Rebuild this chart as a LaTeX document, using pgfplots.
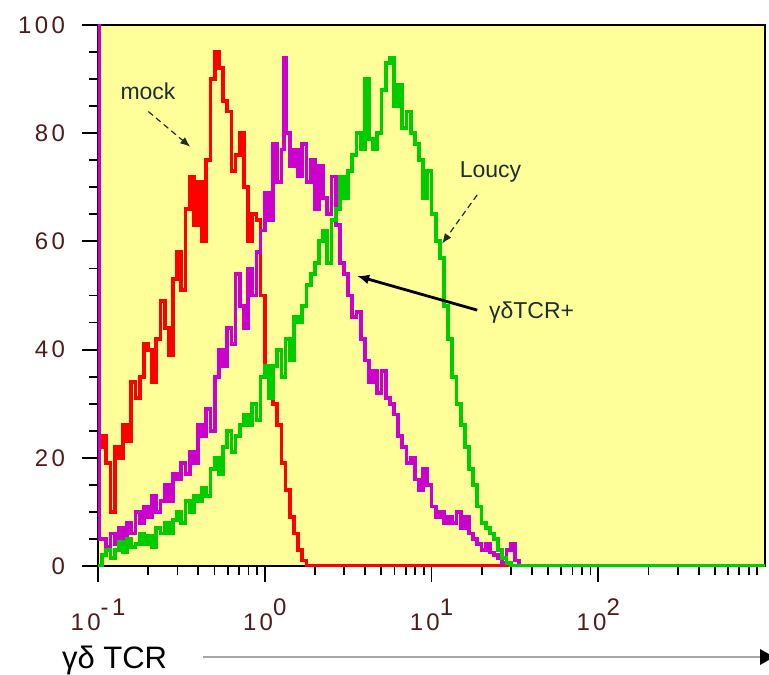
\documentclass[border=0pt]{standalone}
\usepackage{pgfplots}
\pgfplotsset{compat=1.18}
\usetikzlibrary{arrows.meta}
\usepackage{fontspec}
\setmainfont{Liberation Sans}
\definecolor{bg}{HTML}{FFFF99}
\definecolor{mockred}{HTML}{FF0000}
\definecolor{tcrmag}{HTML}{CC00CC}
\definecolor{loucygreen}{HTML}{00CC00}
\definecolor{ticktxt}{HTML}{4F1C1C}
\definecolor{annot}{HTML}{1E2E2E}

\begin{document}
\begin{tikzpicture}
\path[use as bounding box] (-49pt,-54pt) rectangle (335.5pt,283pt);
\clip (-49pt,-54pt) rectangle (335.5pt,283pt);
\begin{axis}[
    at={(0,0)}, anchor=south west, scale only axis,
    width=333.5pt, height=270.5pt,
    xmin=-1, xmax=3, ymin=0, ymax=100,
    axis background/.style={fill=bg},
    axis line style={black, line width=0.9pt},
    tick align=outside, xtick pos=bottom, ytick pos=left,
    major tick length=8pt, minor tick length=4.5pt,
    every tick/.style={black, line width=0.9pt},
    xtick={-1,0,1,2},
    xticklabels={10\raisebox{7.5pt}{-1}, 10\raisebox{7.5pt}{0}, 10\raisebox{7.5pt}{1}, 10\raisebox{7.5pt}{2}},
    minor xtick={-0.699,-0.523,-0.398,-0.301,-0.222,-0.155,-0.097,-0.046,
                 0.301,0.477,0.602,0.699,0.778,0.845,0.903,0.954,
                 1.301,1.477,1.602,1.699,1.778,1.845,1.903,1.954,
                 2.301,2.477,2.602,2.699,2.778,2.845,2.903,2.954},
    ytick={0,20,...,100},
    minor y tick num=3,
    tick label style={font=\fontsize{12}{12}\selectfont\addfontfeatures{LetterSpace=14}, text=ticktxt},
    xticklabel style={yshift=-5pt},
    yticklabel style={xshift=-5pt},
    /pgf/number format/assume math mode=true,
    every axis plot/.append style={const plot, line width=1.9pt},
]
% mock
\addplot[mockred] coordinates {
 (-1,110) (-0.995,22) (-0.975,24) (-0.95,19) (-0.925,10) (-0.9,22) (-0.875,20) (-0.85,26)
 (-0.825,23) (-0.8,34) (-0.775,31) (-0.75,35) (-0.725,41) (-0.7,40) (-0.675,34) (-0.65,42)
 (-0.625,49) (-0.6,44) (-0.575,39) (-0.55,53) (-0.525,58) (-0.5,51) (-0.475,66) (-0.45,72)
 (-0.425,63) (-0.4,71) (-0.375,60) (-0.35,75) (-0.325,90) (-0.3,95) (-0.275,92) (-0.25,86)
 (-0.225,84) (-0.2,73) (-0.175,76) (-0.15,80) (-0.125,70) (-0.1,60) (-0.075,65) (-0.05,64)
 (-0.025,50) (0,36) (0.025,33) (0.05,30) (0.075,26) (0.1,19) (0.125,14) (0.15,9)
 (0.175,6) (0.2,3) (0.225,1) (0.25,0) (3,0)
};
% gamma-delta TCR+
\addplot[tcrmag] coordinates {
 (-1,110) (-0.995,5) (-0.975,5) (-0.95,3.5) (-0.925,6) (-0.9,4) (-0.875,7) (-0.85,5)
 (-0.825,8) (-0.8,6) (-0.775,10) (-0.75,8) (-0.725,11) (-0.7,9) (-0.675,13) (-0.65,10)
 (-0.625,12) (-0.6,15) (-0.575,12) (-0.55,17) (-0.525,16) (-0.5,19) (-0.475,17) (-0.45,21)
 (-0.425,19) (-0.4,26) (-0.375,24) (-0.35,29) (-0.325,25) (-0.3,35) (-0.275,40) (-0.25,37)
 (-0.225,44) (-0.2,41) (-0.175,54) (-0.15,48) (-0.125,44) (-0.1,55) (-0.075,50) (-0.05,58)
 (-0.025,62) (0,69) (0.025,64) (0.05,78) (0.075,71) (0.1,77) (0.115,94) (0.13,80)
 (0.15,74) (0.175,77) (0.2,72) (0.225,78) (0.25,71) (0.275,75) (0.3,66) (0.325,74)
 (0.35,68) (0.375,65) (0.4,72) (0.425,63) (0.45,56) (0.475,54) (0.5,50) (0.525,46)
 (0.55,47) (0.575,42) (0.6,38) (0.625,34) (0.65,36) (0.675,32) (0.7,36) (0.725,31)
 (0.75,30) (0.775,28) (0.8,24) (0.825,22) (0.85,19) (0.875,20) (0.9,16) (0.925,14)
 (0.95,18) (0.975,15) (1,11) (1.025,9) (1.05,10) (1.075,8) (1.1,9) (1.125,8)
 (1.15,10) (1.175,7) (1.2,9) (1.225,6) (1.25,5) (1.275,4) (1.3,3) (1.325,4)
 (1.35,2.5) (1.375,2) (1.4,1.5) (1.425,0.5) (1.45,3) (1.475,4) (1.5,1) (1.525,0) (3,0)
};
% Loucy
\addplot[loucygreen] coordinates {
 (-1,0) (-0.975,2) (-0.95,3) (-0.925,1.5) (-0.9,3) (-0.875,4.5) (-0.85,2.5) (-0.825,5)
 (-0.8,3.5) (-0.775,4) (-0.75,6) (-0.725,4) (-0.7,5.5) (-0.675,3.5) (-0.65,7) (-0.625,6)
 (-0.6,8) (-0.575,6) (-0.55,8.5) (-0.525,10) (-0.5,8) (-0.475,12) (-0.45,10) (-0.425,13)
 (-0.4,12) (-0.375,14.5) (-0.35,13) (-0.325,18) (-0.3,20) (-0.275,17) (-0.25,22) (-0.225,25)
 (-0.2,21) (-0.175,24) (-0.15,26) (-0.125,28) (-0.1,26) (-0.075,30) (-0.05,27) (-0.025,35)
 (0,37) (0.025,31) (0.05,37) (0.075,40) (0.1,35) (0.125,42) (0.15,38) (0.175,46)
 (0.2,45) (0.225,48) (0.25,52) (0.275,54) (0.3,56) (0.325,60) (0.35,62) (0.375,56)
 (0.4,64) (0.425,66) (0.45,72) (0.475,68) (0.5,73) (0.525,76) (0.55,80) (0.575,77)
 (0.6,90) (0.625,79) (0.65,77) (0.675,80) (0.7,88) (0.725,93) (0.75,94) (0.775,85)
 (0.8,89) (0.825,81) (0.85,84) (0.875,80) (0.9,78) (0.925,75) (0.95,68) (0.975,73)
 (1,65) (1.025,60) (1.05,57) (1.075,48) (1.1,42) (1.125,35) (1.15,30) (1.175,26)
 (1.2,22) (1.225,18) (1.25,15) (1.275,11) (1.3,8) (1.325,7) (1.35,6) (1.375,5)
 (1.4,3) (1.425,1.5) (1.45,0.5) (1.475,0) (3,0)
};
\node[font=\fontsize{11.5}{12}\selectfont, text=annot] at (axis cs:-0.70,87.8) {mock};
\draw[annot, densely dashed, line width=0.6pt, -{Latex[length=5pt,width=4pt]}]
  (axis cs:-0.698,84.0) -- (axis cs:-0.447,77.5);
\node[font=\fontsize{11.5}{12}\selectfont, text=annot] at (axis cs:1.354,72.8) {Loucy};
\draw[annot, densely dashed, line width=0.6pt, -{Latex[length=5pt,width=4pt]}]
  (axis cs:1.274,68.6) -- (axis cs:1.064,59.6);
\node[font=\fontsize{11.5}{12}\selectfont, text=annot] at (axis cs:1.60,46.8) {γδTCR+};
\draw[black, line width=1.4pt, -{Latex[length=6pt,width=5pt]}]
  (axis cs:1.274,47.3) -- (axis cs:0.554,53.6);
\end{axis}
\node[anchor=base west, font=\fontsize{15.5}{16}\selectfont] at (-21.5pt,-51pt) {γδ TCR};
\draw[gray!70, line width=1pt] (52.5pt,-45.5pt) -- (332pt,-45.5pt);
\fill[black] (331pt,-41.5pt) -- (338pt,-45.5pt) -- (331pt,-49.5pt) -- cycle;
\end{tikzpicture}
\end{document}
